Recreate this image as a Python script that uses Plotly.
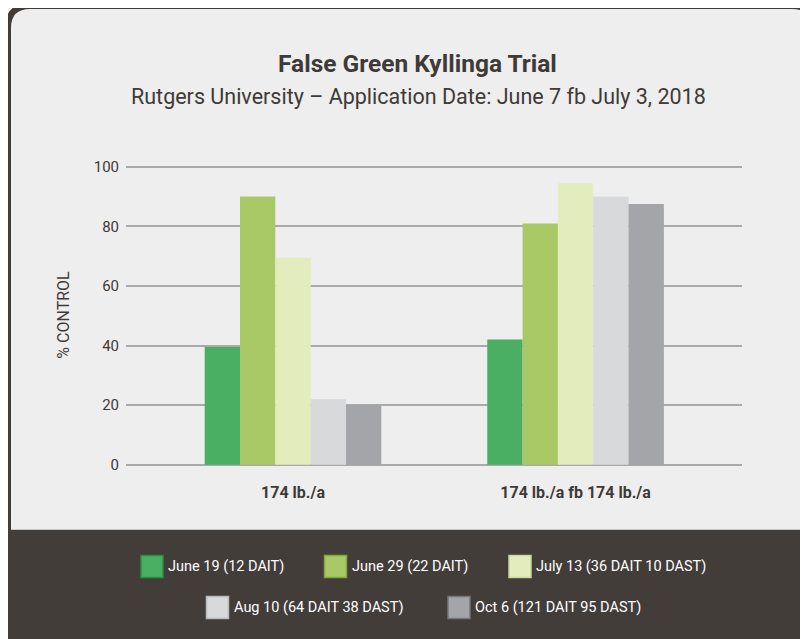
import plotly.graph_objects as go

categories = ["174 lb./a", "174 lb./a fb 174 lb./a"]
series_names = ["June 19 (12 DAIT)", "June 29 (22 DAIT)", "July 13 (36 DAIT 10 DAST)",
                "Aug 10 (64 DAIT 38 DAST)", "Oct 6 (121 DAIT 95 DAST)"]
june19 = [39.5, 42]
june29 = [90, 81]
july13 = [69.5, 94.5]
aug10 = [22, 90]
oct6 = [20, 87.5]
series_values = [june19, june29, july13, aug10, oct6]
colors = ["#4aaf63", "#a9c866", "#e3ecbc", "#d8d9db", "#a4a5a8"]
edge_colors = ["#2f8c47", "#82a63f", "#c9d59c", "#b9babc", "#76777b"]
y_ticks = [0, 20, 40, 60, 80, 100]

FONT = "Roboto, Liberation Sans, Arial, sans-serif"
TXT = "#3e3a37"
DARK = "#433d3a"

OFF = 8  # page body margin
W, H = 808 - OFF, 639 - OFF
# plot area in screen pixels
SL, SR, ST, SB = 126, 742, 162, 468
L, R, T, B = SL - OFF, SR - OFF, ST - OFF, SB - OFF


def px(sx):
    return (sx - OFF - L) / (R - L)


def py(sy):
    return (B - (sy - OFF)) / (B - T)


fig = go.Figure()
for name, vals, col in zip(series_names, series_values, colors):
    fig.add_trace(go.Bar(x=categories, y=vals, name=name, marker_color=col,
                         marker_line_width=0, showlegend=False))

shapes = []
rad = 22
x0, y0, x1, y1 = 8, 6, 814, 660
path = (f"M {px(x0)} {py(y1)} L {px(x0)} {py(y0 + rad)} "
        f"Q {px(x0)} {py(y0)} {px(x0 + rad)} {py(y0)} "
        f"L {px(x1 - rad)} {py(y0)} Q {px(x1)} {py(y0)} {px(x1)} {py(y0 + rad)} "
        f"L {px(x1)} {py(y1)} Z")
shapes.append(dict(type="path", xref="paper", yref="paper", path=path,
                   fillcolor="#eeeeee", line=dict(color="#423c39", width=6), layer="below"))
shapes.append(dict(type="rect", xref="paper", yref="paper", x0=px(5), x1=px(814),
                   y0=py(529.5), y1=py(660), fillcolor=DARK, line=dict(width=0), layer="below"))
shapes.append(dict(type="line", xref="paper", yref="paper", x0=px(11), x1=px(814),
                   y0=py(529.5), y1=py(529.5), line=dict(color="#c9c9c9", width=1), layer="below"))

annotations = []
legend_pos = [(141, 566.5), (324.5, 566.5), (509, 566.5), (206.5, 607.5), (448, 607.5)]
for (lx, ly), name, col, ec in zip(legend_pos, series_names, colors, edge_colors):
    shapes.append(dict(type="rect", xref="paper", yref="paper",
                       x0=px(lx), x1=px(lx + 22), y0=py(ly - 11), y1=py(ly + 11),
                       fillcolor=col, line=dict(color=ec, width=1.5)))
    annotations.append(dict(text=name, xref="paper", yref="paper", x=px(lx + 25), y=py(ly),
                            xanchor="left", yanchor="middle", showarrow=False,
                            font=dict(family=FONT, size=14.5, color="#ffffff")))

annotations.append(dict(text="<b>False Green Kyllinga Trial</b>", xref="paper", yref="paper",
                        x=px(417), y=py(63), xanchor="center", yanchor="middle", showarrow=False,
                        font=dict(family=FONT, size=24.5, color=TXT)))
annotations.append(dict(text="Rutgers University – Application Date: June 7 fb July 3, 2018",
                        xref="paper", yref="paper", x=px(418), y=py(96), xanchor="center",
                        yanchor="middle", showarrow=False,
                        font=dict(family=FONT, size=21.5, color=TXT)))

fig.update_layout(
    width=W, height=H,
    margin=dict(l=L, r=W - R, t=T, b=H - B, pad=0),
    paper_bgcolor="#efefef", plot_bgcolor="rgba(0,0,0,0)",
    barmode="group", bargap=0.375, bargroupgap=0,
    shapes=shapes, annotations=annotations,
    font=dict(family=FONT, color=TXT),
)
fig.update_xaxes(type="category", range=[-0.591, 1.589], showgrid=False, showline=False,
                 zeroline=False, ticks="", ticklabelstandoff=13,
                 tickfont=dict(family=FONT, size=16, color=TXT),
                 tickprefix="<b>", ticksuffix="</b>")
fig.update_yaxes(range=[-1.1, 101.6], tickvals=y_ticks, showgrid=True, gridcolor="#a9a9a9",
                 gridwidth=1.5, zeroline=False, showline=False, ticks="",
                 ticklabelstandoff=6, tickfont=dict(family=FONT, size=15, color=TXT),
                 title=dict(text="% CONTROL", font=dict(family=FONT, size=16, color=TXT),
                            standoff=20))

fig.write_html("out.html")
